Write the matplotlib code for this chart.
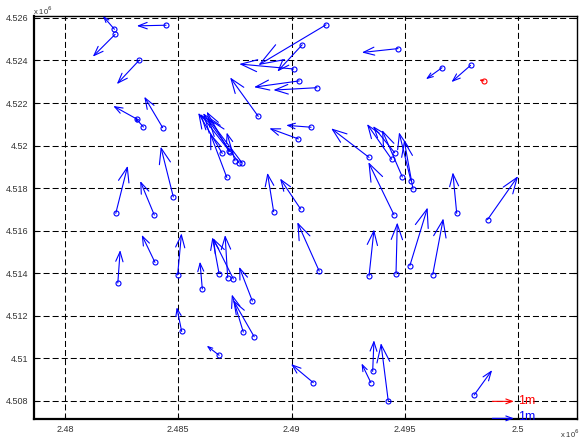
import numpy as np
import matplotlib
matplotlib.use('Agg')
import matplotlib.pyplot as plt
from matplotlib.ticker import FuncFormatter

# station positions (m) and horizontal displacement (m)
east = [2482180, 2482210, 2484460, 2483280, 2483160, 2483460, 2484310, 2482240,
        2483940, 2484780, 2482330, 2483970, 2484970, 2485150, 2486800, 2487870,
        2488350, 2490960, 2493500, 2493580, 2494270, 2498060, 2491520, 2490470,
        2490090, 2490340, 2491120, 2488530, 2490860, 2490300, 2494700, 2493420,
        2496640, 2497900, 2489210, 2490400, 2491220, 2494520, 2486940, 2487220,
        2487280, 2487500, 2487670, 2487810, 2487140, 2494420, 2494550, 2494890,
        2495270, 2495360, 2486800, 2487180, 2487430, 2486060, 2488270, 2494610,
        2495220, 2496230, 2497290, 2498650, 2493420]
north = [4525470, 4525230, 4525660, 4524020, 4521250, 4520870, 4520840, 4516810,
         4516730, 4517580, 4513530, 4514500, 4513910, 4511250, 4510130, 4511220,
         4511000, 4508840, 4508840, 4509370, 4507960, 4508260, 4525680, 4524740,
         4523600, 4523040, 4522720, 4521370, 4520860, 4520310, 4524560, 4519440,
         4523660, 4523770, 4516880, 4517010, 4514090, 4516740, 4519630, 4519760,
         4519710, 4519280, 4519190, 4519190, 4518500, 4519350, 4519660, 4518520,
         4518340, 4517950, 4513970, 4513780, 4513720, 4513250, 4512680, 4513950,
         4514340, 4513920, 4516810, 4516510, 4513860]
de = [-0.53, -1.03, -1.35, -1.04, -1.08, -0.41, -0.85, 0.55,
      -0.65, -0.58, 0.11, -0.61, 0.18, -0.23, -0.57, -0.53,
      -0.97, -1.03, -0.43, 0.06, -0.34, 0.83, -3.12, -1.15,
      -2.51, -2.09, -2.01, -1.30, -1.15, -1.34, -1.67, -1.75,
      -0.74, -0.88, -0.29, -0.95, -1.01, -1.18, -1.11, -1.01,
      -1.38, -0.38, -1.65, -1.57, -0.77, -1.14, -1.00, -0.94,
      -0.55, -0.41, -0.31, -0.12, -0.94, -0.11, -0.61, 0.06,
      0.82, 0.49, -0.18, 1.41, 0.23]
dn = [0.61, -1.03, -0.03, -1.11, 0.60, 0.46, 1.43, 2.19,
      1.57, 2.32, 1.52, 1.27, 1.92, 1.12, 0.44, 1.74,
      1.69, 0.86, 0.89, 1.44, 2.69, 1.15, -1.86, -1.24,
      0.23, -0.29, -0.11, 1.80, 0.09, 0.49, -0.18, 1.34,
      -0.53, -0.77, 1.80, 1.41, 2.26, 2.43, 1.87, 1.80,
      1.74, 1.31, 2.29, 2.06, 2.04, 1.63, 1.23, 2.17,
      2.24, 2.26, 1.68, 1.97, 1.89, 1.26, 1.58, 2.38,
      2.69, 2.60, 1.89, 2.01, 2.15]

# reference station (red)
red_east, red_north, red_de, red_dn = [2498490], [4523040], [-0.22], [0.05]

# scale bars
ref_east = 2498860
ref_north = [4507960, 4507160]
ref_len = 1.0

xticks = np.arange(2480000, 2500001, 5000)
yticks = np.arange(4508000, 4526001, 2000)

ARROW_PT = 15.6  # points per metre of displacement
BLUE = '#0000ff'
RED = '#ff0000'

plt.rcParams['font.family'] = ['Liberation Sans', 'DejaVu Sans']

fig = plt.figure(figsize=(5.8, 4.43), dpi=100)
ax = fig.add_axes([34 / 580, 24 / 443, 543 / 580, 403 / 443])


def draw_arrow(x, y, u, v, color):
    dx, dy = u * ARROW_PT, v * ARROW_PT
    L = np.hypot(dx, dy)
    style = f'<-,head_length={0.3 * L:.2f},head_width={0.11 * L:.2f}'
    ax.annotate('', xy=(x, y), xytext=(dx, dy), textcoords='offset points',
                arrowprops=dict(arrowstyle=style, mutation_scale=1, shrinkA=0,
                                shrinkB=0, color=color, lw=0.8),
                annotation_clip=False)


for x, y, u, v in zip(east, north, de, dn):
    draw_arrow(x, y, u, v, BLUE)
ax.plot(east, north, 'o', mfc='none', mec=BLUE, ms=3.6, mew=0.8)

for x, y, u, v in zip(red_east, red_north, red_de, red_dn):
    draw_arrow(x, y, u, v, RED)
ax.plot(red_east, red_north, 'o', mfc='none', mec=RED, ms=3.6, mew=0.8)

draw_arrow(ref_east, ref_north[0], ref_len, 0, RED)
draw_arrow(ref_east, ref_north[1], ref_len, 0, BLUE)
ax.text(2500020, ref_north[0], '1m', color=RED, fontsize=9, va='center', ha='left')
ax.text(2500020, ref_north[1] + 80, '1m', color=BLUE, fontsize=9, va='center',
        ha='left', clip_on=False)

ax.set_xlim(2478630, 2502600)
ax.set_ylim(4507130, 4526094)
ax.set_xticks(xticks)
ax.set_yticks(yticks)
fmt = FuncFormatter(lambda v, _: f'{v / 1e6:g}')
ax.xaxis.set_major_formatter(fmt)
ax.yaxis.set_major_formatter(fmt)
ax.tick_params(direction='in', length=3, width=0.8, labelsize=6.5,
               labelcolor='#333333', top=True, right=True, pad=4)
ax.grid(True, color='k', lw=0.75, linestyle=(0, (5.8, 2.9)))
ax.set_axisbelow(True)
for s in ax.spines.values():
    s.set_linewidth(1.0)
ax.spines['left'].set_linewidth(1.6)
ax.spines['bottom'].set_linewidth(1.6)

fig.text(33 / 580, 1 - 11 / 443, r'x 10$^6$', fontsize=5.5, color='#333333',
         va='center', ha='left')
fig.text(560 / 580, 3 / 443, r'x 10$^6$', fontsize=5.5, color='#333333',
         va='bottom', ha='left')

fig.savefig('out.png', dpi=100)
